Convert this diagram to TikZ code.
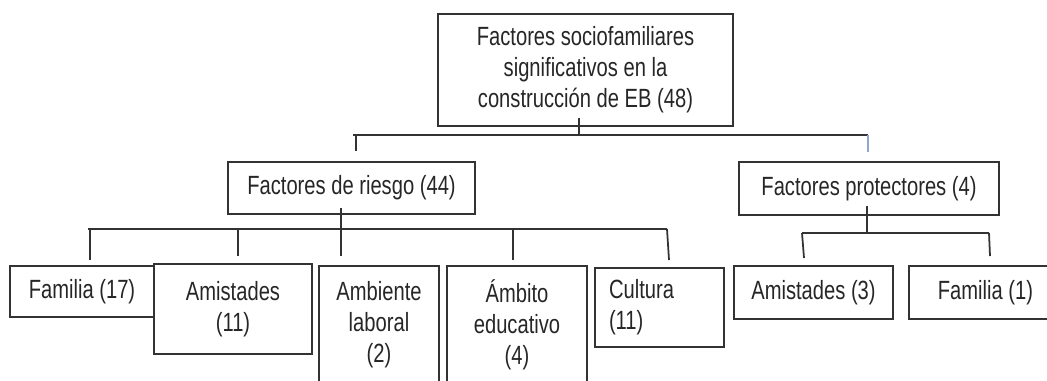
\documentclass[tikz,border=0pt]{standalone}
\usepackage{fontspec}
\setmainfont[FakeStretch=0.765]{Liberation Sans}
\usepackage{tikz}
\definecolor{inkgrey}{HTML}{333333}
\definecolor{tickblue}{HTML}{8FA6CF}

\begin{document}
\begin{tikzpicture}[x=0.02cm,y=-0.02cm,
  caja/.style={draw=inkgrey,line width=1pt,inner sep=0pt,align=center,text=black!85,
    font=\fontsize{15}{17.6}\selectfont},
  rama/.style={draw=inkgrey,line width=1pt}]
  \useasboundingbox (0,0) rectangle (1047,381);
  % nivel 1
  \draw(585.5,70) node[caja,minimum width=5.9cm,minimum height=2.24cm](total) {Factores sociofamiliares\\significativos en la\\construcción de EB (48)};
  % nivel 2
  \draw(351.5,188) node[caja,minimum width=4.94cm,minimum height=1.04cm](riesgo) {Factores de riesgo (44)};
  \draw(869,188.5) node[caja,minimum width=5.2cm,minimum height=1.06cm](protec) {Factores protectores (4)};
  % nivel 3, riesgo
  \draw(82,291.5) node[caja,minimum width=2.88cm,minimum height=1.02cm](fam) {Familia (17)};
  \draw(233,309) node[caja,minimum width=3.16cm,minimum height=1.8cm](amis) {Amistades\\(11)};
  \draw(379,325) node[caja,minimum width=2.4cm,minimum height=2.36cm](amb) {Ambiente\\laboral\\(2)};
  \draw(517,325) node[caja,minimum width=2.8cm,minimum height=2.36cm](edu) {Ámbito\\educativo\\(4)};
  \draw(659.5,307.5) node[caja,align=left,text width=2.02cm,minimum width=2.58cm,minimum height=1.58cm](cult) {Cultura\\(11)};
  % nivel 3, protectores
  \draw(813.5,292.5) node[caja,minimum width=3.18cm,minimum height=1.06cm](amisp) {Amistades (3)};
  \draw(985.5,292.5) node[caja,minimum width=3.06cm,minimum height=1.06cm](famp) {Familia (1)};
  % tronco superior
  \coordinate (j0) at (579,135);
  \draw[rama] ([yshift=0.18cm]total.south -| j0) -- (j0);
  \draw[rama] (353,135) coordinate (b0a) -- (868,135) coordinate (b0b);
  \coordinate (d0a) at (356,151);
  \draw[rama] (d0a |- b0a) -- (d0a);
  \draw[rama,draw=tickblue] (b0b) -- (868,152) coordinate (d0b);
  % ramas de riesgo
  \coordinate (j1) at (341,256);
  \draw[rama] ([yshift=0.14cm]riesgo.south -| j1) -- (j1);
  \draw[rama] (88,229) coordinate (b1a) -- (667,229) coordinate (b1b);
  \draw[rama] (90,229) -- (90,260) coordinate (d1a);
  \draw[rama] (238,229) -- (238,256) coordinate (d1b);
  \draw[rama] (513,229) -- (513,260) coordinate (d1c);
  \draw[rama] (b1b) -- (669,260) coordinate (d1d);
  % ramas de protectores
  \coordinate (j2) at (867,233);
  \draw[rama] ([yshift=0.2cm]protec.south -| j2) -- (j2);
  \draw[rama] (802,233) coordinate (b2a) -- (989,233) coordinate (b2b);
  \draw[rama] (b2a) -- (804,258) coordinate (d2a);
  \draw[rama] (b2b) -- (990,256) coordinate (d2b);
\end{tikzpicture}
\end{document}
